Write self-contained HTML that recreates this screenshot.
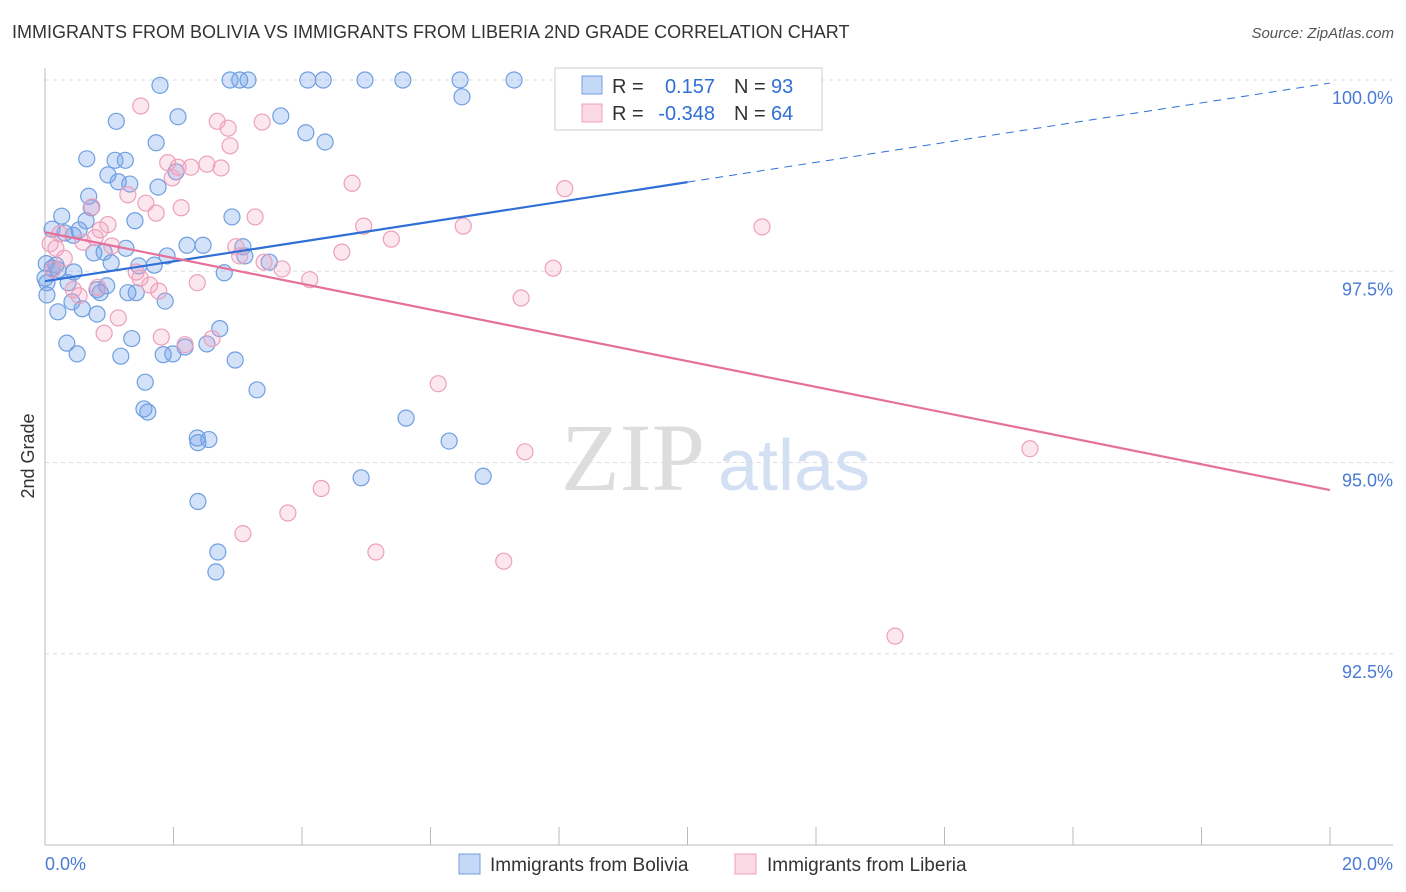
<!DOCTYPE html>
<html><head><meta charset="utf-8">
<style>
body{margin:0;background:#fff;font-family:"Liberation Sans",sans-serif;}
#wrap{position:relative;width:1406px;height:892px;overflow:hidden;}
.title{position:absolute;left:12px;top:22px;font-size:18px;color:#333;}
.source{position:absolute;right:12px;top:25px;font-size:15px;color:#555;font-style:italic;}
</style></head><body>
<div id="wrap">
<div class="title">IMMIGRANTS FROM BOLIVIA VS IMMIGRANTS FROM LIBERIA 2ND GRADE CORRELATION CHART</div>
<div class="source">Source: ZipAtlas.com</div>
<svg id="svg" width="1406" height="892" style="position:absolute;left:0;top:0"></svg>
</div>
<script>
const blueX=[1.79,2.88,3.03,3.16,4.09,4.33,4.98,5.57,6.46,7.30,6.49,2.07,1.11,3.67,4.06,1.73,4.36,0.65,1.09,1.25,0.98,1.14,1.32,1.76,2.04,0.68,0.72,0.26,2.91,1.40,0.64,0.11,0.31,0.44,0.53,2.21,2.46,1.26,0.92,0.76,3.08,3.11,3.49,1.90,1.03,1.70,1.46,0.02,0.11,0.20,0.45,2.79,0.03,0.36,0.96,0.81,0.86,1.29,1.42,1.87,0.42,0.20,0.58,0.81,2.72,1.35,0.34,2.52,2.18,0.50,1.18,1.84,1.99,2.96,1.56,3.30,1.54,1.60,5.62,6.29,2.37,2.38,2.55,4.92,6.82,2.38,2.69,2.66,0.03,0.17,0.0];
const blueY=[99.93,100,100,100,100,100,100,100,100,100,99.78,99.52,99.46,99.53,99.31,99.18,99.19,98.97,98.95,98.95,98.76,98.67,98.64,98.60,98.80,98.48,98.33,98.22,98.21,98.16,98.16,98.05,98.00,97.97,98.04,97.84,97.84,97.80,97.75,97.74,97.82,97.70,97.62,97.70,97.61,97.58,97.57,97.60,97.54,97.52,97.49,97.48,97.35,97.35,97.31,97.26,97.22,97.22,97.22,97.11,97.10,96.97,97.01,96.94,96.75,96.62,96.56,96.55,96.51,96.42,96.39,96.41,96.42,96.34,96.05,95.95,95.70,95.66,95.58,95.28,95.32,95.26,95.30,94.80,94.82,94.49,93.83,93.57,97.19,97.58,97.41];
const pinkX=[9.39,1.49,2.68,2.85,3.38,2.88,1.91,2.07,2.52,2.27,2.74,1.98,4.78,8.09,1.29,1.57,0.73,2.12,1.73,3.27,0.98,4.96,6.51,11.16,0.23,0.86,5.39,0.08,0.59,0.78,1.04,2.97,4.62,0.30,3.03,3.41,3.69,7.91,4.12,0.12,1.48,1.63,2.37,0.44,0.82,7.41,1.14,0.92,1.81,2.18,2.60,6.12,7.47,15.33,4.30,3.78,3.08,5.15,7.14,13.23,0.17,1.42,0.53,1.77];
const pinkY=[100.01,99.66,99.46,99.37,99.45,99.14,98.92,98.86,98.90,98.86,98.85,98.72,98.65,98.58,98.50,98.39,98.34,98.33,98.26,98.21,98.11,98.09,98.09,98.08,97.99,98.04,97.92,97.86,97.88,97.94,97.83,97.82,97.75,97.67,97.70,97.62,97.53,97.54,97.39,97.52,97.41,97.32,97.35,97.26,97.29,97.15,96.89,96.69,96.64,96.54,96.62,96.03,95.14,95.18,94.66,94.34,94.07,93.83,93.71,92.73,97.80,97.49,97.18,97.24];
const blueTrend=[97.37,99.96];
const pinkTrend=[98.01,94.64];
const yTicks=[100,97.5,95,92.5];
const yTickLabels=["100.0%","97.5%","95.0%","92.5%"];
const xTickLabels=["0.0%","20.0%"];

const NS="http://www.w3.org/2000/svg";
const svg=document.getElementById('svg');
const X0=45,X1=1330,YT=80,YB=845;
const xs=v=>X0+(v/20)*(X1-X0);
const ys=v=>YT+(100-v)/10*(YB-YT);
function mk(t,a,p){const e=document.createElementNS(NS,t);for(const k in a)e.setAttribute(k,a[k]);(p||svg).appendChild(e);return e;}

// watermark
let w=mk('text',{x:705,y:490,'text-anchor':'end','font-size':96,fill:'#ddd','font-family':'Liberation Serif, serif'});w.textContent='ZIP';

let w2=mk('text',{x:718,y:490,'font-size':72,fill:'#d3e0f3'});w2.textContent='atlas';


yTicks.forEach((t,i)=>{
 const g=mk('line',{x1:X0,x2:1393,y1:ys(t),y2:ys(t),stroke:'#ddd','stroke-dasharray':'4,4'});
 
 const l=mk('text',{x:1393,y:ys(t)+24,'text-anchor':'end','font-size':18,fill:'#4a7ad6'});l.textContent=yTickLabels[i];
 
});
let ax=mk('line',{x1:X0,x2:X0,y1:68,y2:YB,stroke:'#bbb'});

let bx=mk('line',{x1:X0,x2:1393,y1:YB,y2:YB,stroke:'#bbb'});

for(let i=0;i<=10;i++){const t=mk('line',{x1:xs(i*2),x2:xs(i*2),y1:YB,y2:YB-18,stroke:'#bbb'});
 }
[[0,'start',45],[20,'end',1393]].forEach((d,i)=>{const t=mk('text',{x:d[2],y:870,'text-anchor':d[1],'font-size':18,fill:'#4a7ad6'});t.textContent=xTickLabels[i];
 });
let yt=mk('text',{x:34,y:456,'text-anchor':'middle','font-size':18,fill:'#333',transform:'rotate(-90 34 456)'});yt.textContent='2nd Grade';


blueX.forEach((x,i)=>{const c=mk('circle',{cx:xs(x),cy:ys(blueY[i]),r:8,fill:'rgba(110,160,235,0.3)',stroke:'#6f9fe0','stroke-width':1.2});
 });
pinkX.forEach((x,i)=>{const c=mk('circle',{cx:xs(x),cy:ys(pinkY[i]),r:8,fill:'rgba(245,160,190,0.25)',stroke:'#eca0bb','stroke-width':1.2});
 });

const bAt=x=>blueTrend[0]+(blueTrend[1]-blueTrend[0])*x/20;
let bl=mk('line',{x1:xs(0),y1:ys(bAt(0)),x2:xs(10),y2:ys(bAt(10)),stroke:'#2f6fd6','stroke-width':2.2});

let bd=mk('line',{x1:xs(10),y1:ys(bAt(10)),x2:xs(20),y2:ys(bAt(20)),stroke:'#2f6fd6','stroke-width':1,'stroke-dasharray':'8,6'});

let pl=mk('line',{x1:xs(0),y1:ys(pinkTrend[0]),x2:xs(20),y2:ys(pinkTrend[1]),stroke:'#e5709a','stroke-width':2.2});


// top legend
let lg=mk('g',{});
mk('rect',{x:555,y:68,width:267,height:62,fill:'#fff',stroke:'#ccc'},lg);
mk('rect',{x:582,y:76,width:20,height:18,fill:'rgba(110,160,235,0.4)',stroke:'#6f9fe0'},lg);
mk('rect',{x:582,y:104,width:20,height:18,fill:'rgba(245,160,190,0.4)',stroke:'#eca0bb'},lg);
function tx(x,y,s,c,a){const t=mk('text',{x:x,y:y,'font-size':20,fill:c,'text-anchor':a||'start'},lg);t.textContent=s;return t;}
tx(612,93,'R =','#333');tx(715,93,'0.157','#2f6fd6','end');tx(734,93,'N =','#333');tx(771,93,'93','#2f6fd6');
tx(612,120,'R =','#333');tx(715,120,'-0.348','#2f6fd6','end');tx(734,120,'N =','#333');tx(771,120,'64','#2f6fd6');

// bottom legend
let bl2=mk('g',{});
mk('rect',{x:459,y:854,width:21,height:20,fill:'rgba(110,160,235,0.4)',stroke:'#6f9fe0'},bl2);
let t1=mk('text',{x:490,y:871,'font-size':19,fill:'#333'},bl2);t1.textContent='Immigrants from Bolivia';
mk('rect',{x:735,y:854,width:21,height:20,fill:'rgba(245,160,190,0.4)',stroke:'#eca0bb'},bl2);
let t2=mk('text',{x:767,y:871,'font-size':19,fill:'#333'},bl2);t2.textContent='Immigrants from Liberia';
</script>
</body></html>
